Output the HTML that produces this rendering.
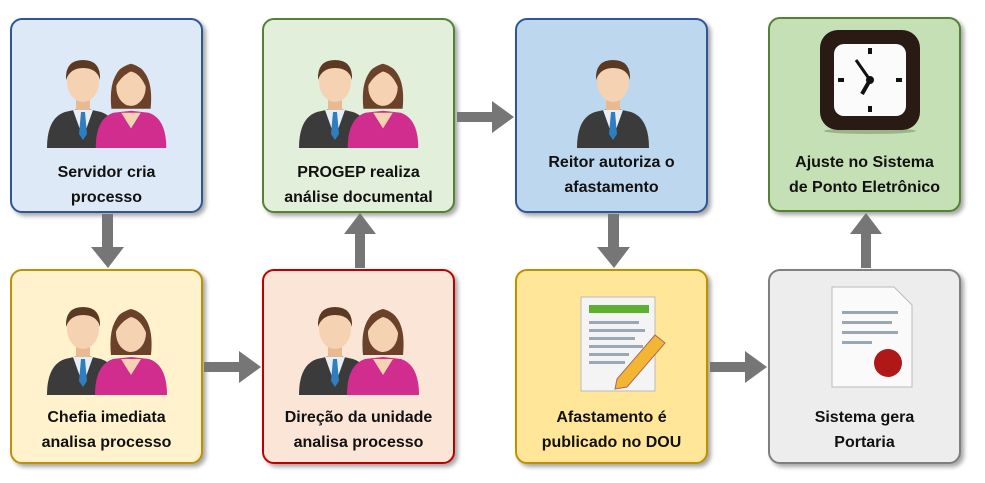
<!DOCTYPE html>
<html><head><meta charset="utf-8"><style>
body{margin:0;width:985px;height:483px;background:#fff;position:relative;overflow:hidden;font-family:"Liberation Sans",sans-serif}
.b{position:absolute;width:193px;height:195px;border:2px solid;border-radius:12px;box-shadow:3px 3px 4px rgba(0,0,0,.35);box-sizing:border-box}
.t{position:absolute;left:0;right:0;text-align:center;font-weight:bold;font-size:16px;line-height:25px;color:#111}
svg.i{position:absolute}
</style></head><body>
<svg width="0" height="0" style="position:absolute">
<defs>
<symbol id="man" viewBox="0 0 80 100">
<path d="M4 100 Q4 70 22 64 L40 60 L58 64 Q76 70 76 100Z" fill="#3b3b3b"/>
<path d="M30 62 L40 90 L50 62Z" fill="#e8eef5"/>
<path d="M38 64 L42 64 L44 86 L40 92 L36 86Z" fill="#2f7fc0"/>
<rect x="33" y="48" width="14" height="14" fill="#e9b992"/>
<ellipse cx="40" cy="34" rx="16" ry="20" fill="#f4d2b2"/>
<path d="M23 32 Q22 12 40 12 Q58 12 57 32 Q54 20 40 20 Q27 20 23 32Z" fill="#5b3a24"/>
</symbol>
<symbol id="woman" viewBox="0 0 80 100">
<path d="M20 60 Q16 20 40 14 Q64 20 60 60Z" fill="#6b4229"/>
<path d="M4 100 Q4 70 22 64 L40 62 L58 64 Q76 70 76 100Z" fill="#d12d8e"/>
<path d="M30 64 L40 80 L50 64Z" fill="#f4d2b2"/>
<ellipse cx="40" cy="38" rx="15" ry="19" fill="#f4d2b2"/>
<path d="M24 38 Q22 16 40 16 Q58 16 56 40 Q50 24 40 22 Q30 26 24 38Z" fill="#6b4229"/>
</symbol>
</defs>
</svg>

<div class="b" style="left:10px;top:18px;background:#dde9f6;border-color:#2f5597">
<svg class="i" style="left:31px;top:18px" width="130" height="110"><use href="#man" x="0" y="10" width="80" height="100"/><use href="#woman" x="48" y="12" width="80" height="98"/></svg>
<div class="t" style="top:140px">Servidor cria<br>processo</div></div>

<div class="b" style="left:262px;top:18px;background:#e2efda;border-color:#548235">
<svg class="i" style="left:31px;top:18px" width="130" height="110"><use href="#man" x="0" y="10" width="80" height="100"/><use href="#woman" x="48" y="12" width="80" height="98"/></svg>
<div class="t" style="top:140px">PROGEP realiza<br>análise documental</div></div>

<div class="b" style="left:515px;top:18px;background:#bdd7ee;border-color:#2f5597">
<svg class="i" style="left:52px;top:18px" width="90" height="110"><use href="#man" x="4" y="10" width="80" height="100"/></svg>
<div class="t" style="top:130px">Reitor autoriza o<br>afastamento</div></div>

<div class="b" style="left:768px;top:17px;background:#c5e0b4;border-color:#548235">
<svg class="i" style="left:48px;top:9px" width="104" height="106">
<ellipse cx="52" cy="103" rx="46" ry="3" fill="#9ab48a"/>
<rect x="2" y="2" width="100" height="100" rx="18" fill="#2a1a14"/>
<rect x="16" y="16" width="72" height="72" rx="10" fill="#fbfbfb"/>
<g fill="#111"><rect x="50" y="20" width="4" height="6"/><rect x="50" y="78" width="4" height="6"/><rect x="20" y="50" width="6" height="4"/><rect x="78" y="50" width="6" height="4"/></g>
<line x1="52" y1="52" x2="38" y2="32" stroke="#111" stroke-width="3"/>
<line x1="52" y1="52" x2="44" y2="66" stroke="#111" stroke-width="4"/>
<circle cx="52" cy="52" r="4" fill="#111"/>
</svg>
<div class="t" style="top:131px">Ajuste no Sistema<br>de Ponto Eletrônico</div></div>

<div class="b" style="left:10px;top:269px;background:#fff2cc;border-color:#bf9000">
<svg class="i" style="left:31px;top:16px" width="130" height="110"><use href="#man" x="0" y="8" width="80" height="100"/><use href="#woman" x="48" y="8" width="80" height="100"/></svg>
<div class="t" style="top:134px">Chefia imediata<br>analisa processo</div></div>

<div class="b" style="left:262px;top:269px;background:#fbe5d6;border-color:#c00000">
<svg class="i" style="left:31px;top:16px" width="130" height="110"><use href="#man" x="0" y="8" width="80" height="100"/><use href="#woman" x="48" y="8" width="80" height="100"/></svg>
<div class="t" style="top:134px">Direção da unidade<br>analisa processo</div></div>

<div class="b" style="left:515px;top:269px;background:#ffe699;border-color:#bf9000">
<svg class="i" style="left:60px;top:24px" width="90" height="100">
<rect x="4" y="2" width="74" height="94" fill="#f4f4f4" stroke="#bbb"/>
<rect x="12" y="10" width="60" height="8" fill="#5cb030"/>
<g fill="#9aa7b4"><rect x="12" y="26" width="50" height="3"/><rect x="12" y="34" width="56" height="3"/><rect x="12" y="42" width="46" height="3"/><rect x="12" y="50" width="54" height="3"/><rect x="12" y="58" width="40" height="3"/><rect x="12" y="66" width="36" height="3"/></g>
<path d="M40 84 L78 40 L88 48 L50 92 L38 94Z" fill="#f2b632" stroke="#a66" stroke-width="1"/>
</svg>
<div class="t" style="top:134px">Afastamento é<br>publicado no DOU</div></div>

<div class="b" style="left:768px;top:269px;background:#ededed;border-color:#7f7f7f">
<svg class="i" style="left:58px;top:12px" width="90" height="110">
<path d="M4 4 L66 4 L84 22 L84 104 L4 104Z" fill="#fafafa" stroke="#bbb"/>
<g fill="#9aa7b4"><rect x="14" y="28" width="56" height="3"/><rect x="14" y="38" width="50" height="3"/><rect x="14" y="48" width="56" height="3"/><rect x="14" y="58" width="30" height="3"/></g>
<circle cx="60" cy="80" r="14" fill="#b01818"/>
</svg>
<div class="t" style="top:134px">Sistema gera<br>Portaria</div></div>

<svg width="985" height="483" style="position:absolute;left:0;top:0" fill="#767676">
<path d="M102 214 h11 v33 h11 l-16 21 l-17 -21 h11z"/>
<path d="M204 362 h35 v-11 l22 16 l-22 16 v-11 h-35z"/>
<path d="M355 268 v-34 h-11 l16 -21 l16 21 h-11 v34z"/>
<path d="M457 112 h35 v-11 l22 16 l-22 16 v-11 h-35z"/>
<path d="M608 214 h11 v33 h11 l-16 21 l-17 -21 h11z"/>
<path d="M710 362 h35 v-11 l22 16 l-22 16 v-11 h-35z"/>
<path d="M861 268 v-34 h-11 l16 -21 l16 21 h-11 v34z"/>
</svg>
</body></html>
